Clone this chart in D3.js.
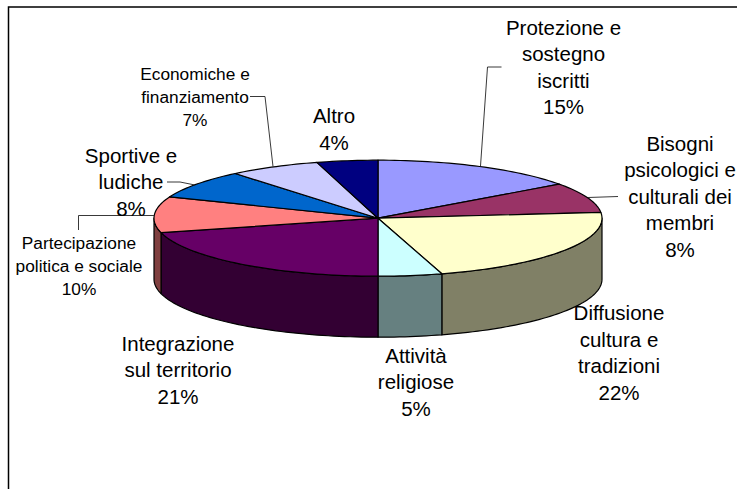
<!DOCTYPE html>
<html><head><meta charset="utf-8">
<script src="https://cdn.jsdelivr.net/npm/d3@7"></script>
<style>
html,body{margin:0;padding:0;background:#fff}
svg{display:block}
text{font-family:"Liberation Sans",Arial,sans-serif;fill:#000;text-anchor:middle}
</style></head><body><svg id="c" width="737" height="489"></svg>
<script>
const categories=["Protezione e sostegno iscritti","Bisogni psicologici e culturali dei membri","Diffusione cultura e tradizioni","Attività religiose","Integrazione sul territorio","Partecipazione politica e sociale","Sportive e ludiche","Economiche e finanziamento","Altro"];
const values=[15,8.4,22,4.6,21,10,8,6.6,4.4];
const topColors=["#9999ff","#993366","#ffffcc","#ccffff","#660066","#ff8080","#0066cc","#ccccff","#000080"];
const sideColors=["#4d4d80","#4d1a33","#808066","#668080","#330033","#804040","#003366","#666680","#000040"];
const labelLines=[["Protezione e","sostegno","iscritti","15%"],["Bisogni","psicologici e","culturali dei","membri","8%"],["Diffusione","cultura e","tradizioni","22%"],["Attività","religiose","5%"],["Integrazione","sul territorio","21%"],["Partecipazione","politica e sociale","10%"],["Sportive e","ludiche","8%"],["Economiche e","finanziamento","7%"],["Altro","4%"]];
const labelX=[563.5,680,619,416,178,79,131,195,334];
const labelY=[35,151,320,363,351,249,163,80,123];
const labelSize=[20.5,20.5,20.5,20.5,20.5,17.3,20.5,17.3,20.5];
const labelLead=[26.4,26.4,26.6,26.4,26.4,23,26.4,23,27];
const leaders=[[[480.5,166],[487.5,67],[501.5,67]],[[588,197.5],[618,196.5]],null,null,null,[[154,215.5],[78.5,215.5],[78.5,230]],[[195,185],[180,182],[167,182]],[[273,166.5],[265,96.5],[250,96.5]],null];

const cx=378,cy=218.2,rx=224,ry=58,depth=61;
const svg=d3.select("#c");
svg.append("rect").attr("x",8.5).attr("y",7).attr("width",760).attr("height",520).attr("fill","#fff").attr("stroke","#000").attr("stroke-width",1.5);

const pie=d3.pie().sort(null).value(d=>d);
const arcs=pie(values);
const sx=d3.scaleLinear().domain([-1,1]).range([cx-rx,cx+rx]);
const sy=d3.scaleLinear().domain([-1,1]).range([cy-ry,cy+ry]);
const pt=(a,off=0)=>[sx(Math.sin(a)),sy(-Math.cos(a))+off];
const line=d3.line();
function sample(a0,a1){const n=Math.max(2,Math.ceil((a1-a0)*40));return d3.range(n+1).map(i=>a0+(a1-a0)*i/n);}

// walls: only the front half of the ellipse is visible
const walls=svg.append("g");
arcs.forEach((d,i)=>{
  const a0=Math.max(d.startAngle,Math.PI/2),a1=Math.min(d.endAngle,Math.PI*1.5);
  if(a1<=a0)return;
  const s=sample(a0,a1);
  const p=s.map(a=>pt(a)).concat(s.slice().reverse().map(a=>pt(a,depth)));
  walls.append("path").attr("d",line(p)+"Z").attr("fill",sideColors[i]).attr("stroke","#000").attr("stroke-width",1.2).attr("stroke-linejoin","round");
});
// top slices
const tops=svg.append("g");
arcs.forEach((d,i)=>{
  const p=[[cx,cy]].concat(sample(d.startAngle,d.endAngle).map(a=>pt(a)));
  tops.append("path").attr("d",line(p)+"Z").attr("fill",topColors[i]).attr("stroke","#000").attr("stroke-width",1.2).attr("stroke-linejoin","round");
});
// leaders
leaders.forEach(l=>{ if(l) svg.append("path").attr("d",line(l)).attr("fill","none").attr("stroke","#222").attr("stroke-width",0.9);});
// labels
categories.forEach((c,i)=>{
  const t=svg.append("text").attr("font-size",labelSize[i]).attr("data-category",c);
  labelLines[i].forEach((s,j)=>t.append("tspan").attr("x",labelX[i]).attr("y",labelY[i]+j*labelLead[i]).text(s));
});
</script></body></html>
